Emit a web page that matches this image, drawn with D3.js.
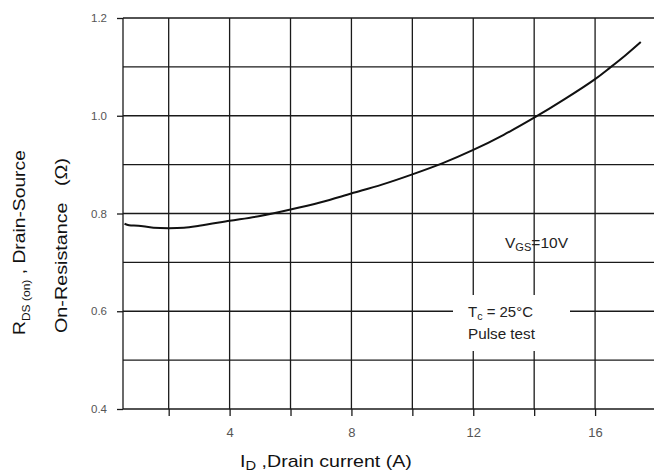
<!DOCTYPE html>
<html><head><meta charset="utf-8">
<script src="https://cdn.jsdelivr.net/npm/d3@7"></script>
<style>
html,body{margin:0;padding:0;background:#fff;}
svg{display:block;font-family:"Liberation Sans",Arial,sans-serif;}
</style></head>
<body><svg id="chart" width="654" height="475"></svg>
<script>
// Data
const current = [0.55, 0.7, 1.0, 1.5, 2.0, 2.5, 3.0, 4.0, 5.0, 6.0, 7.0, 8.0, 9.0, 10.0, 11.0, 12.0, 13.0, 14.0, 15.0, 16.0, 16.5, 17.0, 17.5];
const resistance = [0.779, 0.776, 0.775, 0.771, 0.770, 0.771, 0.775, 0.785, 0.795, 0.808, 0.823, 0.841, 0.859, 0.880, 0.903, 0.930, 0.961, 0.996, 1.034, 1.075, 1.099, 1.124, 1.151];
const xGridValues = [2, 4, 6, 8, 10, 12, 14, 16];
const xTickLabels = [4, 8, 12, 16];
const yGridValues = [0.4, 0.5, 0.6, 0.7, 0.8, 0.9, 1.0, 1.1, 1.2];
const yTickLabels = [0.4, 0.6, 0.8, 1.0, 1.2];

const svg = d3.select("#chart");
const x = d3.scaleLinear().domain([0.5, 18]).range([123, 656]);
const y = d3.scaleLinear().domain([0.4, 1.2]).range([409, 18]);

// stretch a text element along its own direction to a target length
function fit(sel, tx, ty, rot, target) {
  const w = sel.node().getComputedTextLength();
  const s = target / w;
  sel.attr("transform", `translate(${tx},${ty}) rotate(${rot}) scale(${s},1)`);
}

const grid = svg.append("g").attr("stroke", "#1a1a1a").attr("stroke-width", 1.3);
grid.selectAll("line.h").data(yGridValues).join("line").attr("class", "h")
  .attr("x1", x(0.5)).attr("x2", x(18)).attr("y1", d => y(d)).attr("y2", d => y(d));
grid.selectAll("line.v").data(xGridValues).join("line").attr("class", "v")
  .attr("x1", d => x(d)).attr("x2", d => x(d)).attr("y1", y(1.2)).attr("y2", y(0.4));
grid.append("line").attr("x1", x(0.5)).attr("x2", x(0.5)).attr("y1", y(1.2)).attr("y2", y(0.4));

// y axis
const yAxis = svg.append("g").attr("transform", `translate(${x(0.5)},0)`)
  .call(d3.axisLeft(y).tickValues(yTickLabels).tickSize(6).tickPadding(10).tickFormat(d3.format(".1f")));
yAxis.select(".domain").remove();
yAxis.selectAll(".tick line").attr("stroke", "#1a1a1a").attr("stroke-width", 1.3);
yAxis.selectAll("text").attr("font-size", 11.5).attr("fill", "#555").attr("font-family", "Liberation Sans, Arial, sans-serif");

// x axis
const xAxis = svg.append("g").attr("transform", `translate(0,${y(0.4)})`)
  .call(d3.axisBottom(x).tickValues(xGridValues).tickSize(7).tickPadding(12)
    .tickFormat(d => xTickLabels.includes(d) ? String(d) : ""));
xAxis.select(".domain").remove();
xAxis.selectAll(".tick line").attr("stroke", "#1a1a1a").attr("stroke-width", 1.3);
xAxis.selectAll("text").attr("font-size", 13).attr("fill", "#555").attr("font-family", "Liberation Sans, Arial, sans-serif");

// annotation white box breaking grid
svg.append("rect").attr("x", 453).attr("y", 295).attr("width", 117).attr("height", 56).attr("fill", "#fff");

// curve
const line = d3.line().x((d, i) => x(current[i])).y(d => y(d)).curve(d3.curveCatmullRom);
svg.append("path").datum(resistance).attr("d", line)
  .attr("fill", "none").attr("stroke", "#111").attr("stroke-width", 2);

// annotations
const ann = svg.append("g").attr("font-size", 14).attr("fill", "#222");
const vgs = ann.append("text");
vgs.append("tspan").text("V");
vgs.append("tspan").attr("font-size", 10).attr("dy", 3).text("GS");
vgs.append("tspan").attr("dy", -3).text("=10V");
fit(vgs, 505, 248, 0, 63);
const tc = ann.append("text");
tc.append("tspan").text("T");
tc.append("tspan").attr("font-size", 10).attr("dy", 3).text("c");
tc.append("tspan").attr("dy", -3).text(" = 25°C");
fit(tc, 468, 317, 0, 65);
const pt = ann.append("text").text("Pulse test");
fit(pt, 468, 339, 0, 67);

// x axis title
const xt = svg.append("text").attr("font-size", 16).attr("fill", "#111");
xt.append("tspan").text("I");
xt.append("tspan").attr("font-size", 12).attr("dy", 3).text("D");
xt.append("tspan").attr("dy", -3).text(" ,Drain current (A)");
fit(xt, 240, 467, 0, 172);

// y axis titles
const yt1 = svg.append("text").attr("font-size", 16).attr("fill", "#111");
yt1.append("tspan").text("R");
yt1.append("tspan").attr("font-size", 10).attr("dy", 5).text("DS (on)");
yt1.append("tspan").attr("dy", -5).text(" , Drain-Source");
fit(yt1, 25, 335, -90, 185);
const yt2 = svg.append("text").attr("font-size", 16).attr("fill", "#111")
  .attr("xml:space", "preserve").text("On-Resistance   (Ω)");
fit(yt2, 67, 333, -90, 175);
</script></body></html>
